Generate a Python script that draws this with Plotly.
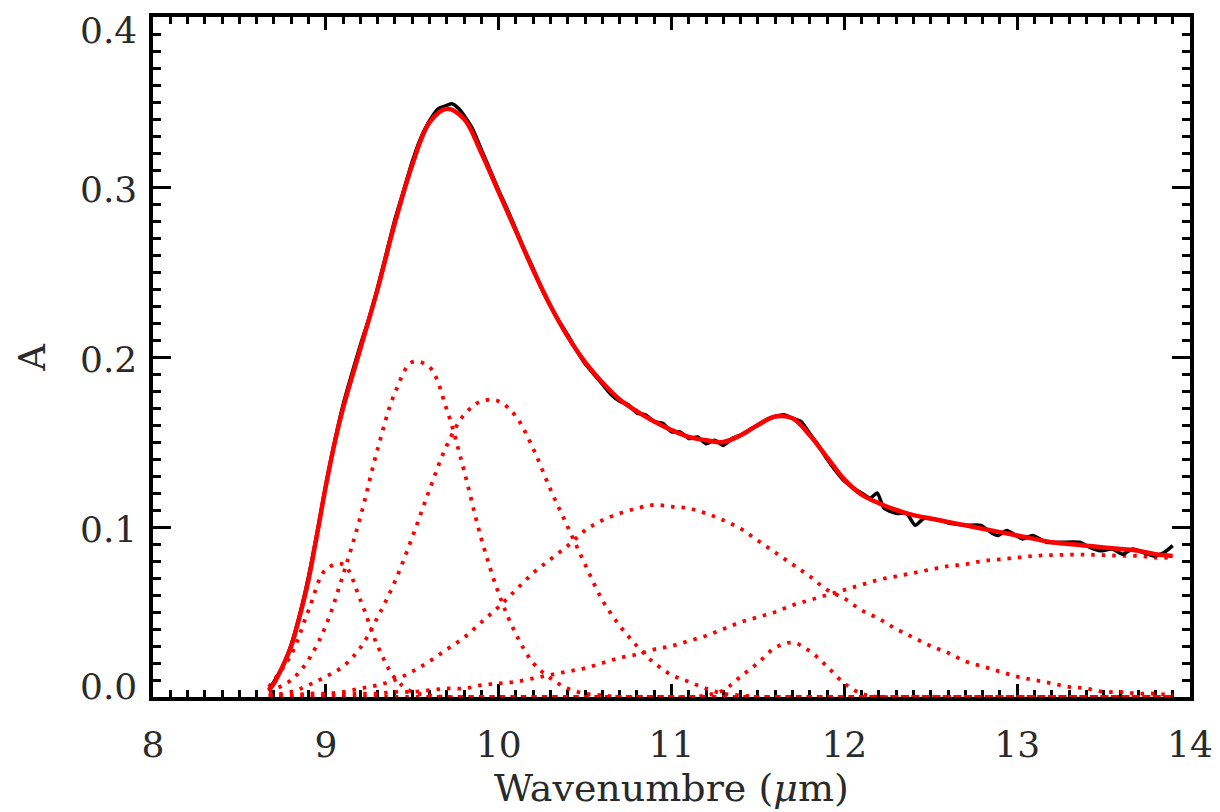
import plotly.graph_objects as go

# ---------------- data ----------------
DATA_X = [8.67, 8.70, 8.75, 8.80, 8.85, 8.90, 8.95, 9.00, 9.05, 9.10, 9.15, 9.20, 9.25, 9.30,
          9.35, 9.40, 9.45, 9.50, 9.55, 9.60, 9.65, 9.70, 9.73, 9.77, 9.80, 9.85, 9.90, 9.95,
          10.00, 10.05, 10.10, 10.15, 10.20, 10.25, 10.30, 10.35, 10.40, 10.45, 10.50, 10.55,
          10.60, 10.65, 10.70, 10.75, 10.80, 10.85, 10.90, 10.95, 11.00, 11.05, 11.10, 11.15,
          11.20, 11.25, 11.30, 11.35, 11.40, 11.45, 11.50, 11.55, 11.60, 11.65, 11.70, 11.75,
          11.80, 11.85, 11.90, 11.95, 12.00, 12.05, 12.10, 12.15, 12.19, 12.23, 12.30, 12.36,
          12.41, 12.46, 12.55, 12.62, 12.70, 12.79, 12.86, 12.89, 12.94, 13.03, 13.09, 13.17,
          13.25, 13.36, 13.42, 13.48, 13.55, 13.61, 13.67, 13.73, 13.79, 13.85, 13.90]
DATA_Y = [0.004, 0.009, 0.018, 0.031, 0.049, 0.071, 0.097, 0.125, 0.150, 0.172, 0.190, 0.207, 0.223, 0.241,
          0.261, 0.281, 0.298, 0.315, 0.329, 0.339, 0.346, 0.348, 0.349, 0.346, 0.342, 0.334, 0.322, 0.310,
          0.298, 0.287, 0.275, 0.263, 0.252, 0.240, 0.230, 0.221, 0.213, 0.204, 0.196, 0.190,
          0.184, 0.178, 0.174, 0.172, 0.167, 0.166, 0.162, 0.161, 0.156, 0.156, 0.152, 0.153,
          0.149, 0.151, 0.148, 0.152, 0.154, 0.157, 0.160, 0.163, 0.165, 0.166, 0.164, 0.162,
          0.155, 0.148, 0.140, 0.133, 0.127, 0.123, 0.120, 0.117, 0.120, 0.111, 0.108, 0.108,
          0.101, 0.105, 0.104, 0.102, 0.101, 0.101, 0.096, 0.095, 0.098, 0.093, 0.095, 0.091,
          0.091, 0.091, 0.088, 0.086, 0.087, 0.084, 0.087, 0.085, 0.083, 0.085, 0.089]

FIT_X = [8.67, 8.70, 8.75, 8.80, 8.85, 8.90, 8.95, 9.00, 9.05, 9.10, 9.20, 9.30, 9.40, 9.50,
         9.60, 9.70, 9.80, 9.90, 10.00, 10.10, 10.20, 10.30, 10.40, 10.50, 10.60, 10.70,
         10.80, 10.90, 11.00, 11.10, 11.20, 11.30, 11.40, 11.50, 11.60, 11.70, 11.80, 11.90,
         12.00, 12.10, 12.20, 12.30, 12.40, 12.50, 12.60, 12.70, 12.80, 12.90, 13.00, 13.10,
         13.20, 13.30, 13.40, 13.50, 13.60, 13.70, 13.80, 13.90]
FIT_Y = [0.004, 0.008, 0.018, 0.030, 0.048, 0.069, 0.096, 0.124, 0.149, 0.170, 0.205, 0.240, 0.279, 0.313,
         0.338, 0.346, 0.340, 0.320, 0.297, 0.274, 0.251, 0.230, 0.212, 0.197, 0.185, 0.175,
         0.168, 0.162, 0.157, 0.153, 0.151, 0.150, 0.154, 0.160, 0.165, 0.164, 0.154, 0.141,
         0.128, 0.119, 0.114, 0.110, 0.107, 0.105, 0.103, 0.101, 0.099, 0.097, 0.095, 0.093,
         0.091, 0.090, 0.089, 0.088, 0.087, 0.086, 0.084, 0.083]

COMP_X = [8.67, 8.8, 8.9, 9.0, 9.1, 9.2, 9.3, 9.4, 9.5, 9.6, 9.7, 9.8, 9.9, 10.0, 10.1, 10.2,
          10.3, 10.4, 10.5, 10.6, 10.7, 10.8, 10.9, 11.0, 11.1, 11.2, 11.3, 11.4, 11.5, 11.6,
          11.7, 11.8, 11.9, 12.0, 12.1, 12.2, 12.3, 12.4, 12.5, 12.6, 12.7, 12.8, 12.9, 13.0,
          13.1, 13.2, 13.3, 13.4, 13.5, 13.6, 13.7, 13.8, 13.9]
COMP_1 = [0.006, 0.025, 0.051, 0.075, 0.078, 0.057, 0.030, 0.011, 0.003, 0.001,
          0, 0, 0, 0, 0, 0, 0, 0, 0, 0, 0, 0, 0, 0, 0, 0, 0, 0, 0, 0, 0, 0, 0, 0, 0, 0,
          0, 0, 0, 0, 0, 0, 0, 0, 0, 0, 0, 0, 0, 0, 0, 0, 0]
COMP_2 = [0.003, 0.010, 0.022, 0.042, 0.072, 0.106, 0.146, 0.179, 0.197, 0.194,
          0.169, 0.133, 0.093, 0.061, 0.037, 0.020, 0.011, 0.005, 0.002, 0.001,
          0, 0, 0, 0, 0, 0, 0, 0, 0, 0, 0, 0, 0, 0, 0, 0, 0, 0, 0, 0, 0, 0, 0, 0, 0, 0,
          0, 0, 0, 0, 0, 0, 0]
COMP_3 = [0.001, 0.003, 0.007, 0.012, 0.018, 0.029, 0.047, 0.068, 0.094, 0.122,
          0.148, 0.166, 0.174, 0.174, 0.165, 0.146, 0.122, 0.100, 0.078, 0.057,
          0.042, 0.030, 0.020, 0.013, 0.009, 0.005, 0.002, 0.001,
          0, 0, 0, 0, 0, 0, 0, 0, 0, 0, 0, 0, 0, 0, 0, 0, 0, 0, 0, 0, 0, 0, 0, 0, 0]
COMP_4 = [0.001, 0.001, 0.002, 0.002, 0.003, 0.005, 0.007, 0.010, 0.015, 0.021,
          0.028, 0.035, 0.044, 0.053, 0.063, 0.073, 0.081, 0.089, 0.098, 0.104,
          0.108, 0.111, 0.113, 0.112, 0.111, 0.108, 0.104, 0.099, 0.092, 0.085,
          0.078, 0.071, 0.063, 0.058, 0.051, 0.046, 0.040, 0.035, 0.030, 0.026,
          0.021, 0.018, 0.015, 0.012, 0.010, 0.008, 0.006, 0.005, 0.003, 0.003,
          0.002, 0.002, 0.001]
COMP_5 = [0, 0, 0, 0, 0, 0, 0, 0, 0, 0, 0, 0, 0, 0, 0, 0, 0, 0, 0, 0, 0, 0, 0, 0, 0,
          0.001, 0.004, 0.012, 0.020, 0.029, 0.032, 0.027, 0.018, 0.008, 0.002,
          0, 0, 0, 0, 0, 0, 0, 0, 0, 0, 0, 0, 0, 0, 0, 0, 0, 0]
COMP_6 = [0.001, 0.001, 0.001, 0.001, 0.002, 0.002, 0.002, 0.003, 0.003, 0.004,
          0.005, 0.005, 0.007, 0.008, 0.009, 0.011, 0.013, 0.015, 0.017, 0.020,
          0.023, 0.025, 0.028, 0.030, 0.033, 0.036, 0.040, 0.044, 0.047, 0.050,
          0.054, 0.057, 0.060, 0.063, 0.066, 0.069, 0.071, 0.073, 0.075, 0.077,
          0.078, 0.080, 0.081, 0.082, 0.083, 0.0835, 0.0837, 0.0837, 0.0835, 0.083,
          0.083, 0.082, 0.082]

X_TICKS = [8, 9, 10, 11, 12, 13, 14]
X_TICK_LABELS = ["8", "9", "10", "11", "12", "13", "14"]
Y_TICKS = [0.0, 0.1, 0.2, 0.3, 0.4]
Y_TICK_LABELS = ["0.0", "0.1", "0.2", "0.3", "0.4"]
X_TITLE = "Wavenumbre (<i>μ</i>m)"
Y_TITLE = "A"

# ---------------- figure ----------------
FONT = "DejaVu Serif"
TXT = "#2a2a2a"
RED = "#ff0000"

fig = go.Figure()
for comp in [COMP_1, COMP_2, COMP_3, COMP_4, COMP_5, COMP_6]:
    fig.add_trace(go.Scatter(x=COMP_X, y=comp, mode="lines", showlegend=False,
                             line=dict(color=RED, width=3.8, dash="3.5px,7px", shape="spline")))
fig.add_trace(go.Scatter(x=DATA_X, y=DATA_Y, mode="lines", showlegend=False,
                         line=dict(color="black", width=3.5, shape="spline", smoothing=0.6)))
fig.add_trace(go.Scatter(x=FIT_X, y=FIT_Y, mode="lines", showlegend=False,
                         line=dict(color=RED, width=4.5, shape="spline")))

fig.update_xaxes(range=[8, 14], tickmode="array", tickvals=X_TICKS, ticktext=X_TICK_LABELS,
                 ticks="inside", ticklen=13, tickwidth=2.5, tickcolor="black",
                 showline=True, linewidth=4, linecolor="black", mirror="ticks",
                 showgrid=False, zeroline=False, layer="below traces",
                 tickfont=dict(family=FONT, size=36, color=TXT), ticklabelstandoff=13,
                 minor=dict(dtick=0.1, ticks="inside", ticklen=7, tickwidth=2.5,
                            tickcolor="black", showgrid=False))
fig.update_yaxes(range=[0, 0.4], tickmode="array", tickvals=Y_TICKS, showticklabels=False,
                 ticks="inside", ticklen=18, tickwidth=2.5, tickcolor="black",
                 showline=True, linewidth=4, linecolor="black", mirror="ticks",
                 showgrid=False, zeroline=False, layer="below traces",
                 minor=dict(dtick=0.01, ticks="inside", ticklen=8, tickwidth=2.5,
                            tickcolor="black", showgrid=False))

annotations = []
y_shifts = {"0.0": 11, "0.4": -13}
for v, lab in zip(Y_TICKS, Y_TICK_LABELS):
    annotations.append(dict(x=0, xref="paper", y=v, yref="y", text=lab, showarrow=False,
                            xanchor="right", yanchor="middle", xshift=-14,
                            yshift=y_shifts.get(lab, -2),
                            font=dict(family=FONT, size=36, color=TXT)))
annotations.append(dict(x=0.5, xref="paper", y=-0.134, yref="paper", text=X_TITLE,
                        showarrow=False, xanchor="center", yanchor="middle",
                        font=dict(family=FONT, size=38, color=TXT)))
annotations.append(dict(x=-0.117, xref="paper", y=0.5, yref="paper", text=Y_TITLE,
                        showarrow=False, xanchor="center", yanchor="middle", textangle=-90,
                        font=dict(family=FONT, size=37, color=TXT)))

fig.update_layout(width=1212, height=804, margin=dict(l=145, r=30, t=5, b=115),
                  plot_bgcolor="white", paper_bgcolor="white", annotations=annotations)

fig.write_html("out.html")
